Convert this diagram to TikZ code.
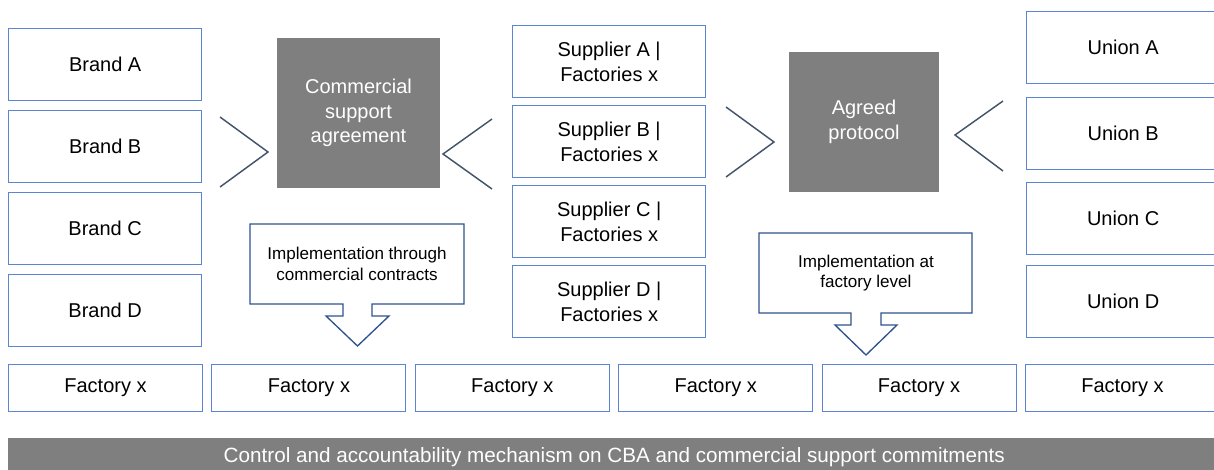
\documentclass[tikz,border=0pt]{standalone}
\usepackage{fontspec}
\setmainfont{Liberation Sans}
\usetikzlibrary{positioning}
\definecolor{boxblue}{HTML}{5B84D2}
\definecolor{calloutblue}{HTML}{2F528F}
\definecolor{chevron}{HTML}{44546A}
\definecolor{panel}{HTML}{7F7F7F}
\tikzset{
  box/.style={draw=boxblue, line width=0.75pt, fill=white, align=center, inner sep=2pt, minimum width=145pt, minimum height=54pt, font=\fontsize{15}{18.75}\selectfont},
  factorybox/.style={box, minimum width=145.5pt, minimum height=35.25pt},
  panelbox/.style={fill=panel, align=center, text=white, inner sep=2pt, font=\fontsize{15}{18.5}\selectfont},
  chevronline/.style={draw=chevron, line width=1.1pt},
  callout/.style={draw=calloutblue, line width=1pt, fill=white, line join=miter},
  callouttext/.style={align=center, font=\fontsize{12.8}{15.5}\selectfont}
}

\begin{document}
\begin{tikzpicture}[x=0.75pt, y=-0.75pt]
\useasboundingbox (0,0) rectangle (1214,469);
\clip (0,0) rectangle (1214,469);

% brands
\node[box, anchor=north west] (brandA) at (8,28) {Brand A};
\node[box, below=6.75pt of brandA] (brandB) {Brand B};
\node[box, below=6.75pt of brandB] (brandC) {Brand C};
\node[box, below=6.75pt of brandC] (brandD) {Brand D};

% suppliers
\node[box, anchor=north west] (supA) at (512,25) {Supplier A |\\Factories x};
\node[box, below=5.25pt of supA] (supB) {Supplier B |\\Factories x};
\node[box, below=5.25pt of supB] (supC) {Supplier C |\\Factories x};
\node[box, below=5.25pt of supC] (supD) {Supplier D |\\Factories x};

% unions
\node[box, anchor=north west] (unionA) at (1026,11) {Union A};
\node[box, anchor=north west] (unionB) at (1026,97) {Union B};
\node[box, anchor=north west] (unionC) at (1026,182) {Union C};
\node[box, anchor=north west] (unionD) at (1026,265) {Union D};

% agreements
\node[panelbox, minimum width=122.25pt, minimum height=112.5pt] (csa) at (358.5,113) {Commercial\\support\\agreement};
\node[panelbox, minimum width=112.5pt, minimum height=105pt] (protocol) at (864,122) {Agreed\\protocol};

% chevrons
\draw[chevronline] (220,117) -- (268,152) -- (220,187);
\draw[chevronline] (492,119) -- (443,154) -- (492,189);
\draw[chevronline] (726,107) -- (774,142) -- (726,177);
\draw[chevronline] (1003,101) -- (955,135) -- (1003,171);

% callouts
\draw[callout] (250,224) -- (464,224) -- (464,304) -- (372,304) -- (372,316) -- (389,316)
  -- (357.5,346) -- (326,316) -- (343,316) -- (343,304) -- (250,304) -- cycle;
\node[callouttext] (impl1) at (357,264) {Implementation through\\commercial contracts};
\draw[callout] (759,233) -- (972,233) -- (972,313) -- (881,313) -- (881,325) -- (897,325)
  -- (866,355) -- (835,325) -- (851,325) -- (851,313) -- (759,313) -- cycle;
\node[callouttext] (impl2) at (866,273) {Implementation at\\factory level};

% factory row
\node[factorybox, anchor=north west] (fac1) at (8,364) {Factory x};
\node[factorybox, right=6.3pt of fac1] (fac2) {Factory x};
\node[factorybox, right=6.3pt of fac2] (fac3) {Factory x};
\node[factorybox, right=6.3pt of fac3] (fac4) {Factory x};
\node[factorybox, right=6.3pt of fac4] (fac5) {Factory x};
\node[factorybox, right=6.3pt of fac5] (fac6) {Factory x};

% control bar
\node[panelbox, anchor=north west, minimum width=909pt, minimum height=28.5pt, inner sep=0pt,
  font=\fontsize{15.5}{18}\selectfont] (control) at (8,438)
  {Control and accountability mechanism on CBA and commercial support commitments};
\end{tikzpicture}
\end{document}
